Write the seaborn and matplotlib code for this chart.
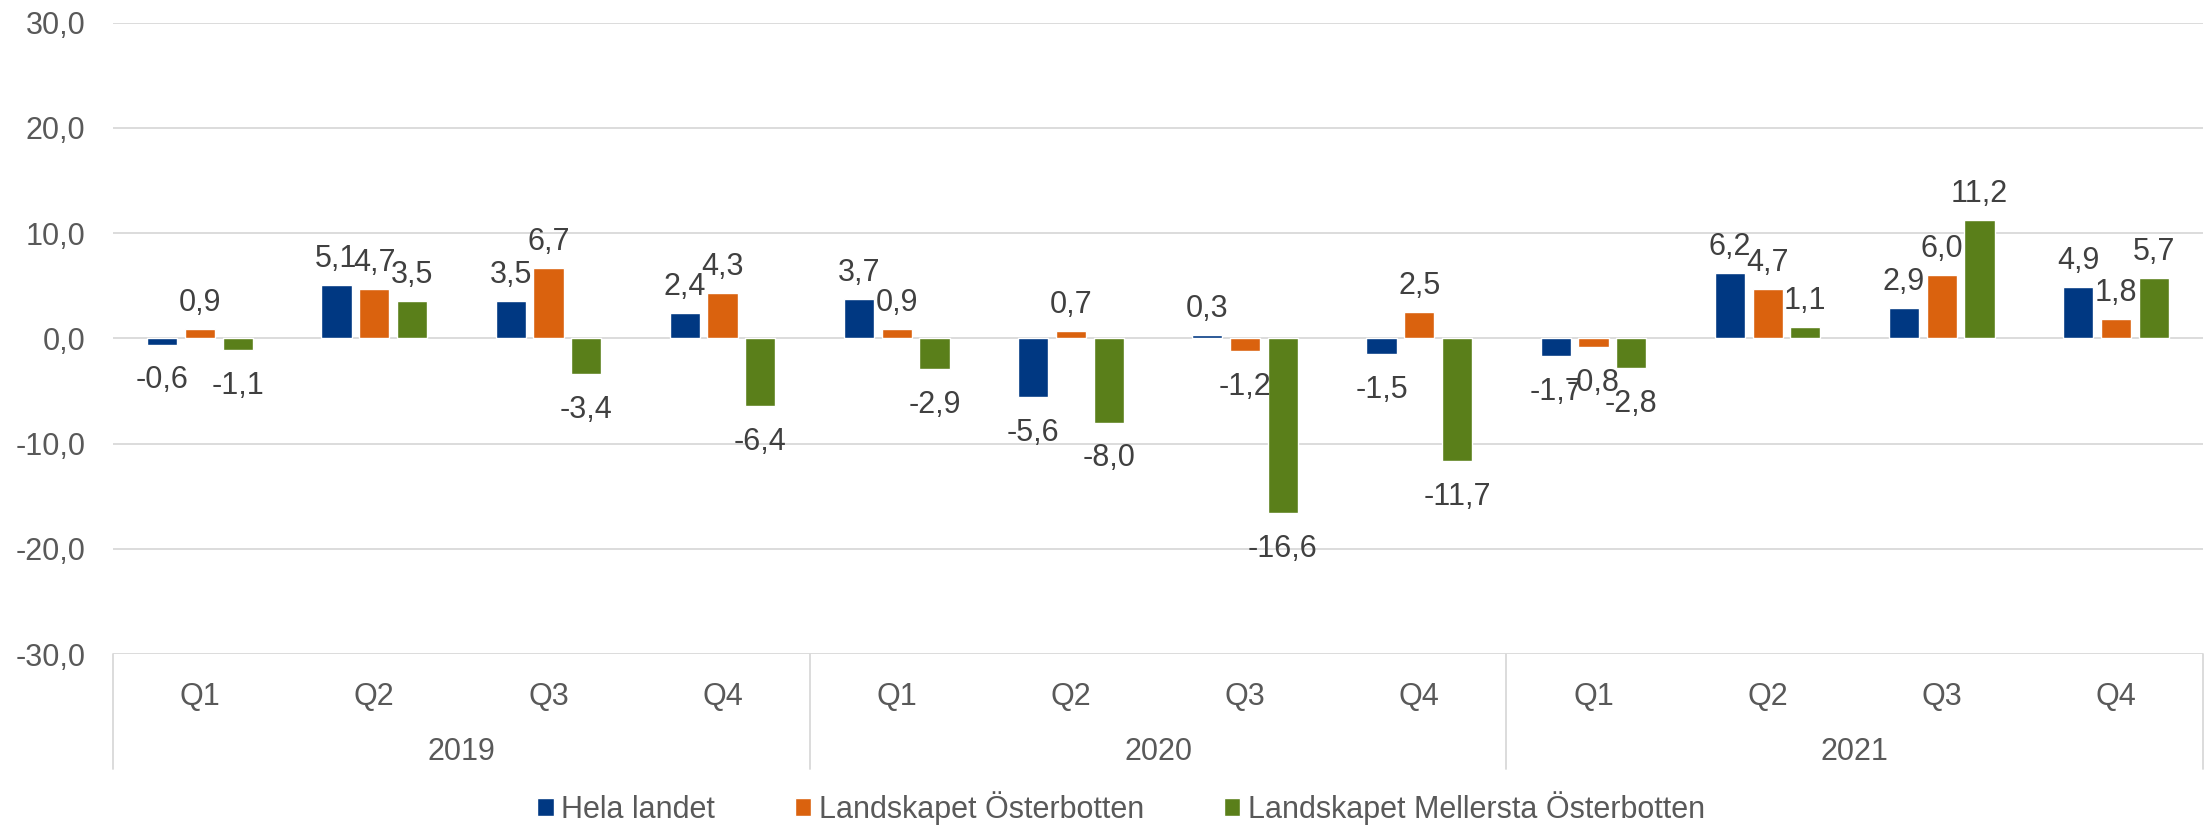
import pandas as pd
import matplotlib.pyplot as plt
import seaborn as sns
from matplotlib.ticker import FuncFormatter
from matplotlib.patches import Patch

# quarterly change, three regions
years = ['2019', '2020', '2021']
quarters = ['Q1', 'Q2', 'Q3', 'Q4']
series = ['Hela landet', 'Landskapet Österbotten', 'Landskapet Mellersta Österbotten']

hela = [-0.6, 5.1, 3.5, 2.4, 3.7, -5.6, 0.3, -1.5, -1.7, 6.2, 2.9, 4.9]
osterbotten = [0.9, 4.7, 6.7, 4.3, 0.9, 0.7, -1.2, 2.5, -0.8, 4.7, 6.0, 1.8]
mellersta = [-1.1, 3.5, -3.4, -6.4, -2.9, -8.0, -16.6, -11.7, -2.8, 1.1, 11.2, 5.7]

colors = ['#003882', '#DA620E', '#5A7F1A']

periods = [f'{y}-{q}' for y in years for q in quarters]
df = pd.DataFrame({'period': periods, series[0]: hela, series[1]: osterbotten, series[2]: mellersta})
long = df.melt(id_vars='period', var_name='Serie', value_name='Värde')

sns.set_style('white')
plt.rcParams['font.family'] = ['Liberation Sans', 'DejaVu Sans']
FS = 22

fig = plt.figure(figsize=(22.11, 8.26), dpi=100)
ax = fig.add_axes([0.0511, 0.2082, 0.9453, 0.7644])

sns.barplot(data=long, x='period', y='Värde', hue='Serie', order=periods, hue_order=series,
            palette=colors, width=0.65, gap=0.2, errorbar=None, saturation=1, ax=ax)
ax.get_legend().remove()

# value labels, outside end like Excel
for cont in ax.containers:
    for b in cont:
        v = b.get_height()
        txt = f'{v:.1f}'.replace('.', ',')
        x = b.get_x() + b.get_width() / 2
        if v >= 0:
            ax.annotate(txt, (x, v), xytext=(0, 13), textcoords='offset points',
                        ha='center', va='baseline', fontsize=FS, color='#404040')
        else:
            ax.annotate(txt, (x, v), xytext=(0, -15), textcoords='offset points',
                        ha='center', va='top', fontsize=FS, color='#404040')

ax.set_ylim(-30, 30)
ax.set_xlim(-0.5, 11.5)
ax.set_yticks(range(-30, 31, 10))
ax.yaxis.set_major_formatter(FuncFormatter(lambda v, p: f'{v:.1f}'.replace('.', ',')))
ax.grid(axis='y', color='#D9D9D9', linewidth=1.3)
ax.set_axisbelow(True)
for s in ax.spines.values():
    s.set_visible(False)

ax.set_xticks(range(12))
ax.set_xticklabels(quarters * 3)
ax.tick_params(axis='x', length=0, pad=20, labelsize=FS, labelcolor='#595959')
ax.tick_params(axis='y', length=0, pad=20, labelsize=FS, labelcolor='#595959')
ax.set_xlabel('')
ax.set_ylabel('')

# year row and separators below the axis
tr = ax.get_xaxis_transform()
for i, y in enumerate(years):
    ax.text(4 * i + 1.5, -0.155, y, transform=tr, ha='center', va='center',
            fontsize=FS, color='#595959')
for xb in [-0.5, 3.5, 7.5, 11.5]:
    ax.plot([xb, xb], [0, -0.182], transform=tr, color='#D9D9D9', linewidth=1.3, clip_on=False)

handles = [Patch(facecolor=c, label=s) for c, s in zip(colors, series)]
fig.legend(handles=handles, loc='center', bbox_to_anchor=(0.507, 0.022), ncol=3, frameon=False,
           fontsize=FS, labelcolor='#595959', handlelength=0.55, handleheight=0.5,
           handletextpad=0.25, columnspacing=2.6, borderpad=0)

fig.savefig('out.png', dpi=100)
